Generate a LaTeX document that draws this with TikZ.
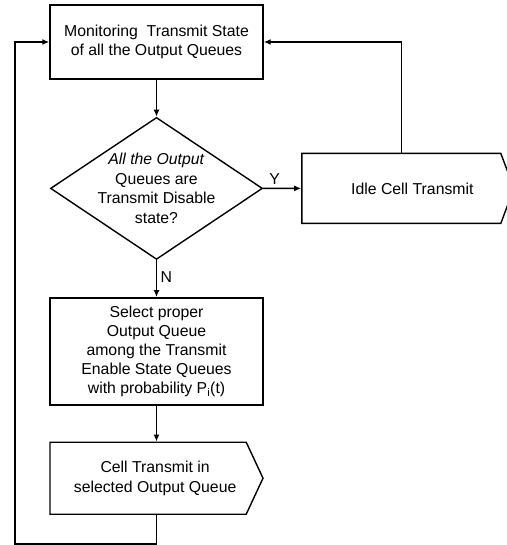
\documentclass[tikz,border=0pt]{standalone}
\usepackage{fontspec}
\setmainfont{Liberation Sans}
\usepackage{tikz}
\usetikzlibrary{arrows.meta,shapes,positioning}
\tikzstyle{arrow} = [line width=1.4pt,-{Latex[length=7pt,width=6pt]}]
\tikzstyle{process} = [rectangle, minimum width=213pt, text centered, align=center, draw, line width=1.4pt]
\tikzstyle{decision} = [diamond, minimum width=212pt, minimum height=142pt, inner sep=0pt, draw, line width=1.4pt]
\tikzstyle{output} = [signal, signal to=east, text centered, align=center, draw, line width=1.4pt]

\begin{document}
\begin{tikzpicture}[x=1pt, y=1pt, font=\fontsize{15.8}{19.5}\selectfont]
\useasboundingbox (0,0) rectangle (506,-545);
% main column
\node (monitor) [process, minimum height=74pt] at (156.5,-42) {Monitoring \ Transmit State\\of all the Output Queues};
\node (check) [decision, below=37pt of monitor] {};
\node (checktext) [align=center] at (check) {\textit{All the Output}\\Queues are\\Transmit Disable\\state?};
\node (idle) [output, right=38pt of check, signal pointer angle=139, minimum width=212pt, minimum height=70pt] {\hspace*{22pt}Idle Cell Transmit};
\node (select) [process, below=37pt of check, minimum height=107pt, font=\fontsize{15.8}{19}\selectfont] {Select proper\\Output Queue\\among the Transmit\\Enable State Queues\\with probability P\textsubscript{i}(t)};
\node (cell) [output, below=36pt of select.south west, anchor=north west, signal pointer angle=130, minimum width=213pt, minimum height=72pt] {\hspace*{14pt}Cell Transmit in\\\hspace*{14pt}selected Output Queue};
\coordinate (loopcorner) at (15,-544);

% connectors
\draw[arrow] (monitor) -- (check);
\draw[arrow] (check) -- node[above, pos=0.3] {Y} (idle);
\draw[arrow] (check) -- node[right, pos=0.45] {N} (select);
\draw[arrow] (select) -- (cell.north -| select.south);
\draw[arrow] (idle.north) |- (monitor.east);
\draw[arrow] (cell.south -| select.south) |- (loopcorner) |- (monitor.west);
\end{tikzpicture}
\end{document}
